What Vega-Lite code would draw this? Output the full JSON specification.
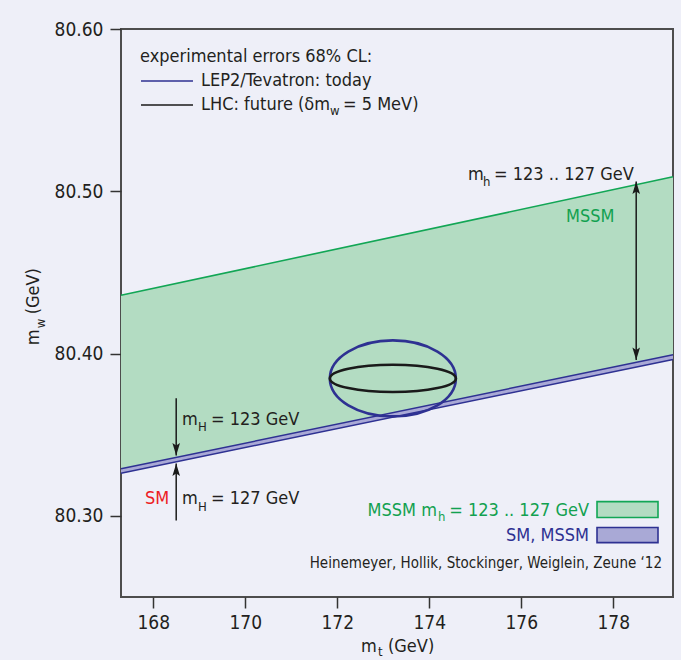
{
  "$schema": "https://vega.github.io/schema/vega-lite/v6.json",
  "autosize": "none",
  "padding": {"left": 121, "top": 29, "right": 8, "bottom": 63},
  "width": 552,
  "height": 568,
  "background": "#eeeff8",
  "config": {
    "view": {"stroke": "#4d4d4d", "strokeWidth": 2, "fill": "#eeeff8"},
    "font": "Liberation Sans Narrow, DejaVu Sans Condensed, sans-serif",
    "text": {"font": "Liberation Sans Narrow, DejaVu Sans Condensed, sans-serif"},
    "axis": {"labelFont": "Liberation Sans Narrow, DejaVu Sans Condensed, sans-serif"}
  },
  "datasets": {
    "band": [
      {"mt": 167.3, "mssm_hi": 80.4359, "sm_hi": 80.3290, "sm_lo": 80.3263},
      {"mt": 179.3, "mssm_hi": 80.5089, "sm_hi": 80.3993, "sm_lo": 80.3964}
    ],
    "ellipses": [
      {"id": "today", "mt": 173.21, "mw": 80.3847},
      {"id": "future", "mt": 173.21, "mw": 80.3847}
    ],
    "keylines": [
      {"id": "today", "x1": 167.735, "x2": 168.865, "y": 80.5679},
      {"id": "future", "x1": 167.735, "x2": 168.865, "y": 80.5531}
    ],
    "shafts": [
      {"x": 178.5, "y1": 80.506, "y2": 80.396},
      {"x": 168.5, "y1": 80.3724, "y2": 80.3372},
      {"x": 168.5, "y1": 80.2971, "y2": 80.3323}
    ],
    "heads": [
      {"x": 178.5, "y": 80.506, "dir": "up"},
      {"x": 178.5, "y": 80.396, "dir": "down"},
      {"x": 168.5, "y": 80.3372, "dir": "down"},
      {"x": 168.5, "y": 80.3323, "dir": "up"}
    ],
    "boxes": [
      {"id": "mssm", "x1": 177.648, "x2": 178.974, "y1": 80.3088, "y2": 80.2990},
      {"id": "sm", "x1": 177.648, "x2": 178.974, "y1": 80.2928, "y2": 80.2835}
    ],
    "labels": [
      {"role": "body", "text": "experimental errors 68% CL:", "mt": 167.713, "mw": 80.5827},
      {"role": "body", "text": "LEP2/Tevatron: today", "mt": 169.039, "mw": 80.5679},
      {"role": "body", "text": "LHC: future (δm", "mt": 169.039, "mw": 80.5531},
      {"role": "body", "text": "= 5 MeV)", "mt": 172.126, "mw": 80.5531},
      {"role": "body", "text": "m", "mt": 174.843, "mw": 80.5099},
      {"role": "body", "text": "= 123 .. 127 GeV", "mt": 175.41, "mw": 80.5099},
      {"role": "body", "text": "m", "mt": 168.626, "mw": 80.3588},
      {"role": "body", "text": "= 123 GeV", "mt": 169.257, "mw": 80.3588},
      {"role": "body", "text": "m", "mt": 168.626, "mw": 80.3101},
      {"role": "body", "text": "= 127 GeV", "mt": 169.257, "mw": 80.3101},
      {"role": "body", "text": "m", "mt": 172.517, "mw": 80.2194},
      {"role": "body", "text": "(GeV)", "mt": 173.104, "mw": 80.2194},
      {"role": "sub", "text": "w", "mt": 171.843, "mw": 80.5494},
      {"role": "sub", "text": "h", "mt": 175.17, "mw": 80.5056},
      {"role": "sub", "text": "H", "mt": 168.974, "mw": 80.3545},
      {"role": "sub", "text": "H", "mt": 168.974, "mw": 80.3057},
      {"role": "sub", "text": "t", "mt": 172.887, "mw": 80.2163},
      {"role": "mssm", "text": "MSSM", "mt": 176.974, "mw": 80.4842},
      {"role": "mssm_rm", "text": "MSSM m", "mt": 174.17, "mw": 80.3033},
      {"role": "mssm_sub", "text": "h", "mt": 174.191, "mw": 80.2996},
      {"role": "mssm_r", "text": "= 123 .. 127 GeV", "mt": 177.474, "mw": 80.3033},
      {"role": "sm", "text": "SM", "mt": 167.822, "mw": 80.3101},
      {"role": "smlegend", "text": "SM, MSSM", "mt": 177.474, "mw": 80.2878},
      {"role": "credit", "text": "Heinemeyer, Hollik, Stockinger, Weiglein, Zeune ‘12", "mt": 179.061, "mw": 80.2712},
      {"role": "ylab", "text": "m", "mt": 165.409, "mw": 80.4051},
      {"role": "ylab", "text": "(GeV)", "mt": 165.409, "mw": 80.4242},
      {"role": "ylab_sub", "text": "w", "mt": 165.561, "mw": 80.4156}
    ]
  },
  "layer": [
    {
      "data": {"name": "band"},
      "mark": {"type": "area", "color": "#b3dcc2", "opacity": 1},
      "encoding": {
        "x": {"field": "mt", "type": "quantitative", "scale": {"domain": [167.3, 179.3], "nice": false, "zero": false},
          "axis": {"values": [168, 170, 172, 174, 176, 178], "title": null, "domain": false, "grid": false, "tickSize": 11, "tickColor": "#333333", "tickWidth": 1.5, "labelFontSize": 19, "labelColor": "#231f20", "labelPadding": 5}},
        "y": {"field": "mssm_hi", "type": "quantitative", "scale": {"domain": [80.25, 80.6], "nice": false, "zero": false},
          "axis": {"values": [80.3, 80.4, 80.5, 80.6], "format": ".2f", "title": null, "domain": false, "grid": false, "tickSize": 11, "tickColor": "#333333", "tickWidth": 1.5, "labelFontSize": 19, "labelColor": "#231f20", "labelPadding": 7}},
        "y2": {"field": "sm_hi"}
      }
    },
    {
      "data": {"name": "band"},
      "mark": {"type": "area", "color": "#a9a9d6", "opacity": 1},
      "encoding": {
        "x": {"field": "mt", "type": "quantitative"},
        "y": {"field": "sm_hi", "type": "quantitative"},
        "y2": {"field": "sm_lo"}
      }
    },
    {
      "data": {"name": "band"},
      "mark": {"type": "line", "color": "#12a655", "strokeWidth": 1.6},
      "encoding": {
        "x": {"field": "mt", "type": "quantitative"},
        "y": {"field": "mssm_hi", "type": "quantitative"}
      }
    },
    {
      "data": {"name": "band"},
      "mark": {"type": "line", "color": "#2e3192", "strokeWidth": 1.5},
      "encoding": {
        "x": {"field": "mt", "type": "quantitative"},
        "y": {"field": "sm_hi", "type": "quantitative"}
      }
    },
    {
      "data": {"name": "band"},
      "mark": {"type": "line", "color": "#2e3192", "strokeWidth": 1.5},
      "encoding": {
        "x": {"field": "mt", "type": "quantitative"},
        "y": {"field": "sm_lo", "type": "quantitative"}
      }
    },
    {
      "data": {"name": "ellipses"},
      "transform": [{"filter": "datum.id === 'today'"}],
      "mark": {"type": "point", "filled": false, "opacity": 1, "stroke": "#2e3192", "strokeWidth": 2.6, "size": 15876,
        "shape": "M -1 0 A 1 0.603 0 1 0 1 0 A 1 0.603 0 1 0 -1 0 Z"},
      "encoding": {
        "x": {"field": "mt", "type": "quantitative"},
        "y": {"field": "mw", "type": "quantitative"}
      }
    },
    {
      "data": {"name": "ellipses"},
      "transform": [{"filter": "datum.id === 'future'"}],
      "mark": {"type": "point", "filled": false, "opacity": 1, "stroke": "#1a1a1a", "strokeWidth": 2.6, "size": 15876,
        "shape": "M -1 0 A 1 0.217 0 1 0 1 0 A 1 0.217 0 1 0 -1 0 Z"},
      "encoding": {
        "x": {"field": "mt", "type": "quantitative"},
        "y": {"field": "mw", "type": "quantitative"}
      }
    },
    {
      "data": {"name": "keylines"},
      "mark": {"type": "rule", "strokeWidth": 1.5},
      "encoding": {
        "x": {"field": "x1", "type": "quantitative"},
        "x2": {"field": "x2"},
        "y": {"field": "y", "type": "quantitative"},
        "color": {"field": "id", "type": "nominal", "scale": {"domain": ["today", "future"], "range": ["#2e3192", "#1a1a1a"]}, "legend": null}
      }
    },
    {
      "data": {"name": "shafts"},
      "mark": {"type": "rule", "strokeWidth": 1.5, "color": "#1a1a1a"},
      "encoding": {
        "x": {"field": "x", "type": "quantitative"},
        "y": {"field": "y1", "type": "quantitative"},
        "y2": {"field": "y2"}
      }
    },
    {
      "data": {"name": "heads"},
      "mark": {"type": "point", "filled": true, "opacity": 1, "color": "#1a1a1a", "size": 400, "strokeWidth": 0},
      "encoding": {
        "x": {"field": "x", "type": "quantitative"},
        "y": {"field": "y", "type": "quantitative"},
        "shape": {"field": "dir", "type": "nominal", "legend": null,
          "scale": {"domain": ["up", "down"], "range": ["M 0 0 L -0.38 1.25 L 0 1 L 0.38 1.25 Z", "M 0 0 L -0.38 -1.25 L 0 -1 L 0.38 -1.25 Z"]}}
      }
    },
    {
      "data": {"name": "boxes"},
      "mark": {"type": "rect", "strokeWidth": 1.6},
      "encoding": {
        "x": {"field": "x1", "type": "quantitative"},
        "x2": {"field": "x2"},
        "y": {"field": "y1", "type": "quantitative"},
        "y2": {"field": "y2"},
        "fill": {"field": "id", "type": "nominal", "scale": {"domain": ["mssm", "sm"], "range": ["#b3dcc2", "#a9a9d6"]}, "legend": null},
        "stroke": {"field": "id", "type": "nominal", "scale": {"domain": ["mssm", "sm"], "range": ["#12a655", "#2e3192"]}, "legend": null}
      }
    },
    {
      "data": {"name": "labels"},
      "transform": [{"filter": "datum.role === 'body'"}],
      "mark": {"type": "text", "align": "left", "baseline": "middle", "fontSize": 18, "color": "#231f20"},
      "encoding": {
        "x": {"field": "mt", "type": "quantitative"},
        "y": {"field": "mw", "type": "quantitative"},
        "text": {"field": "text"}
      }
    },
    {
      "data": {"name": "labels"},
      "transform": [{"filter": "datum.role === 'sub'"}],
      "mark": {"type": "text", "align": "left", "baseline": "middle", "fontSize": 13, "color": "#231f20"},
      "encoding": {
        "x": {"field": "mt", "type": "quantitative"},
        "y": {"field": "mw", "type": "quantitative"},
        "text": {"field": "text"}
      }
    },
    {
      "data": {"name": "labels"},
      "transform": [{"filter": "datum.role === 'mssm'"}],
      "mark": {"type": "text", "align": "left", "baseline": "middle", "fontSize": 18, "color": "#12a150"},
      "encoding": {
        "x": {"field": "mt", "type": "quantitative"},
        "y": {"field": "mw", "type": "quantitative"},
        "text": {"field": "text"}
      }
    },
    {
      "data": {"name": "labels"},
      "transform": [{"filter": "datum.role === 'mssm_rm'"}],
      "mark": {"type": "text", "align": "right", "baseline": "middle", "fontSize": 18, "color": "#12a150"},
      "encoding": {
        "x": {"field": "mt", "type": "quantitative"},
        "y": {"field": "mw", "type": "quantitative"},
        "text": {"field": "text"}
      }
    },
    {
      "data": {"name": "labels"},
      "transform": [{"filter": "datum.role === 'mssm_sub'"}],
      "mark": {"type": "text", "align": "left", "baseline": "middle", "fontSize": 13, "color": "#12a150"},
      "encoding": {
        "x": {"field": "mt", "type": "quantitative"},
        "y": {"field": "mw", "type": "quantitative"},
        "text": {"field": "text"}
      }
    },
    {
      "data": {"name": "labels"},
      "transform": [{"filter": "datum.role === 'mssm_r'"}],
      "mark": {"type": "text", "align": "right", "baseline": "middle", "fontSize": 18, "color": "#12a150"},
      "encoding": {
        "x": {"field": "mt", "type": "quantitative"},
        "y": {"field": "mw", "type": "quantitative"},
        "text": {"field": "text"}
      }
    },
    {
      "data": {"name": "labels"},
      "transform": [{"filter": "datum.role === 'sm'"}],
      "mark": {"type": "text", "align": "left", "baseline": "middle", "fontSize": 18, "color": "#ed1c24"},
      "encoding": {
        "x": {"field": "mt", "type": "quantitative"},
        "y": {"field": "mw", "type": "quantitative"},
        "text": {"field": "text"}
      }
    },
    {
      "data": {"name": "labels"},
      "transform": [{"filter": "datum.role === 'smlegend'"}],
      "mark": {"type": "text", "align": "right", "baseline": "middle", "fontSize": 18, "color": "#2e3192"},
      "encoding": {
        "x": {"field": "mt", "type": "quantitative"},
        "y": {"field": "mw", "type": "quantitative"},
        "text": {"field": "text"}
      }
    },
    {
      "data": {"name": "labels"},
      "transform": [{"filter": "datum.role === 'credit'"}],
      "mark": {"type": "text", "align": "right", "baseline": "middle", "fontSize": 15, "color": "#231f20"},
      "encoding": {
        "x": {"field": "mt", "type": "quantitative"},
        "y": {"field": "mw", "type": "quantitative"},
        "text": {"field": "text"}
      }
    },
    {
      "data": {"name": "labels"},
      "transform": [{"filter": "datum.role === 'ylab'"}],
      "mark": {"type": "text", "align": "left", "baseline": "middle", "angle": 270, "fontSize": 18, "color": "#231f20"},
      "encoding": {
        "x": {"field": "mt", "type": "quantitative"},
        "y": {"field": "mw", "type": "quantitative"},
        "text": {"field": "text"}
      }
    },
    {
      "data": {"name": "labels"},
      "transform": [{"filter": "datum.role === 'ylab_sub'"}],
      "mark": {"type": "text", "align": "left", "baseline": "middle", "angle": 270, "fontSize": 13, "color": "#231f20"},
      "encoding": {
        "x": {"field": "mt", "type": "quantitative"},
        "y": {"field": "mw", "type": "quantitative"},
        "text": {"field": "text"}
      }
    }
  ]
}
